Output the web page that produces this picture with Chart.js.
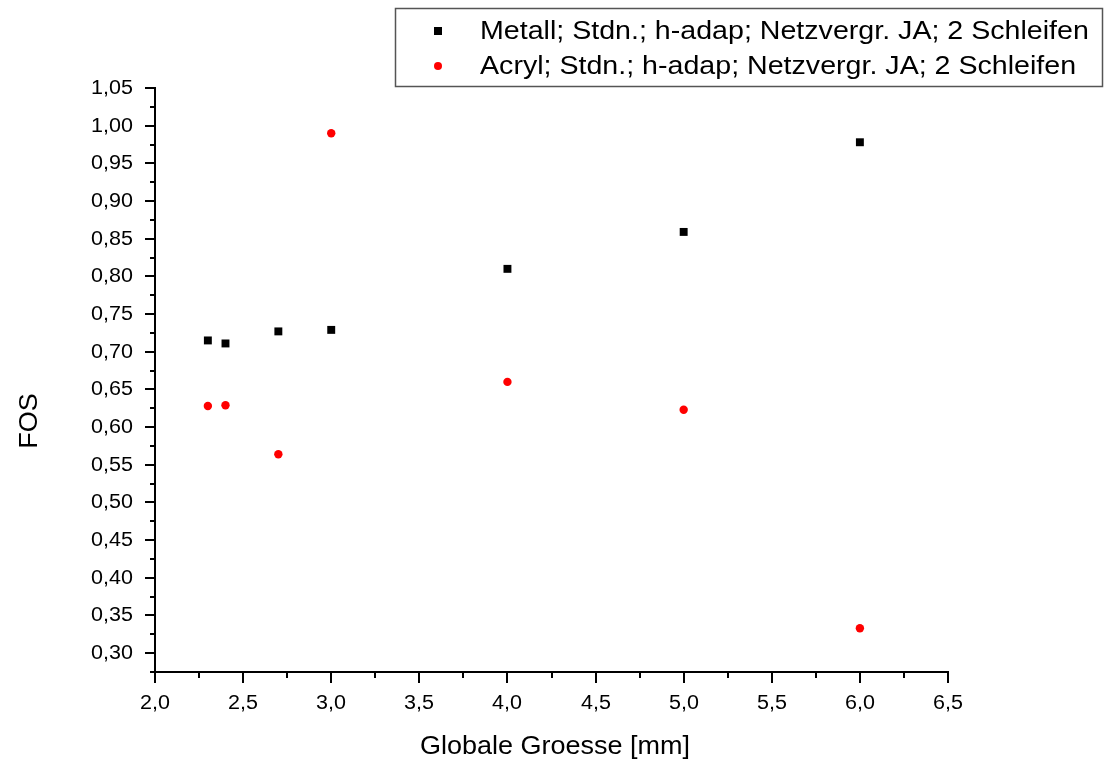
<!DOCTYPE html>
<html>
<head>
<meta charset="utf-8">
<script src="https://cdn.jsdelivr.net/npm/chart.js@4.4.0/dist/chart.umd.min.js"></script>
<style>
html,body{margin:0;padding:0;background:#fff;}
#wrap{width:1105px;height:765px;position:relative;}
</style>
</head>
<body>
<div id="wrap"><canvas id="c" width="1105" height="765"></canvas></div>
<script>
const xMetall = [2.3, 2.4, 2.7, 3.0, 4.0, 5.0, 6.0];
const yMetall = [0.715, 0.711, 0.727, 0.729, 0.810, 0.859, 0.978];
const xAcryl = [2.3, 2.4, 2.7, 3.0, 4.0, 5.0, 6.0];
const yAcryl = [0.628, 0.629, 0.564, 0.990, 0.660, 0.623, 0.333];
const seriesLabels = [
  'Metall; Stdn.; h-adap; Netzvergr. JA; 2 Schleifen',
  'Acryl; Stdn.; h-adap; Netzvergr. JA; 2 Schleifen'
];
const xTicks = [2.0, 2.5, 3.0, 3.5, 4.0, 4.5, 5.0, 5.5, 6.0, 6.5];
const yTicks = [0.30, 0.35, 0.40, 0.45, 0.50, 0.55, 0.60, 0.65, 0.70, 0.75, 0.80, 0.85, 0.90, 0.95, 1.00, 1.05];
const xTitle = 'Globale Groesse [mm]';
const yTitle = 'FOS';

const FONT = '"Liberation Sans", Arial, sans-serif';
const fmt = (v, d) => v.toFixed(d).replace('.', ',');

function drawText(ctx, text, x, y, size, align, sx, rot) {
  ctx.save();
  ctx.translate(x, y);
  if (rot) ctx.rotate(rot);
  ctx.scale(sx, 1);
  ctx.font = size + 'px ' + FONT;
  ctx.textAlign = align;
  ctx.textBaseline = 'middle';
  ctx.fillStyle = '#000';
  ctx.fillText(text, 0, 0);
  ctx.restore();
}

const axisPlugin = {
  id: 'axisDecor',
  afterDraw(chart) {
    const ctx = chart.ctx;
    const xs = chart.scales.x, ys = chart.scales.y;
    const ca = chart.chartArea;
    ctx.save();
    ctx.strokeStyle = '#000';
    ctx.lineWidth = 2;
    for (let i = 0; i < yTicks.length; i++) {
      const py = Math.round(ys.getPixelForValue(yTicks[i]));
      ctx.beginPath(); ctx.moveTo(ca.left - 10, py); ctx.lineTo(ca.left, py); ctx.stroke();
      const mv = yTicks[i] - 0.025;
      if (mv >= ys.min - 1e-9) {
        const pm = Math.round(ys.getPixelForValue(mv));
        ctx.beginPath(); ctx.moveTo(ca.left - 5, pm); ctx.lineTo(ca.left, pm); ctx.stroke();
      }
      drawText(ctx, fmt(yTicks[i], 2), 133, py, 20.5, 'right', 1.05);
    }
    for (let i = 0; i < xTicks.length; i++) {
      const px = Math.round(xs.getPixelForValue(xTicks[i]));
      ctx.beginPath(); ctx.moveTo(px, ca.bottom); ctx.lineTo(px, ca.bottom + 11); ctx.stroke();
      if (i < xTicks.length - 1) {
        const pm = Math.round(xs.getPixelForValue((xTicks[i] + xTicks[i + 1]) / 2));
        ctx.beginPath(); ctx.moveTo(pm, ca.bottom); ctx.lineTo(pm, ca.bottom + 6); ctx.stroke();
      }
      drawText(ctx, fmt(xTicks[i], 1), px, 703, 20.5, 'center', 1.05);
    }
    drawText(ctx, xTitle, 555, 747, 25, 'center', 1.08);
    drawText(ctx, yTitle, 30, 421, 25, 'center', 1.08, -Math.PI / 2);
    ctx.lineWidth = 1.5;
    ctx.strokeStyle = '#555';
    ctx.strokeRect(395.5, 8.5, 707, 78);
    const rows = [31, 66];
    chart.data.datasets.forEach((ds, i) => {
      const y = rows[i];
      ctx.fillStyle = ds.backgroundColor;
      if (ds.pointStyle === 'rect') {
        ctx.fillRect(434, y - 4, 8, 8);
      } else {
        ctx.beginPath(); ctx.arc(438, y, 4, 0, Math.PI * 2); ctx.fill();
      }
      drawText(ctx, ds.label, 480, y + 1, 26, 'left', 1.1);
    });
    ctx.restore();
  }
};

new Chart(document.getElementById('c'), {
  type: 'scatter',
  data: {
    datasets: [
      {
        label: seriesLabels[0],
        data: xMetall.map((x, i) => ({ x: x, y: yMetall[i] })),
        backgroundColor: '#000',
        borderColor: '#000',
        borderWidth: 0,
        pointStyle: 'rect',
        pointRadius: 5.6,
        pointHoverRadius: 5.6
      },
      {
        label: seriesLabels[1],
        data: xAcryl.map((x, i) => ({ x: x, y: yAcryl[i] })),
        backgroundColor: '#ff0000',
        borderColor: '#ff0000',
        borderWidth: 0,
        pointStyle: 'circle',
        pointRadius: 4.2,
        pointHoverRadius: 4.2
      }
    ]
  },
  options: {
    responsive: false,
    animation: false,
    events: [],
    layout: { padding: { left: 0, top: 88, right: 157, bottom: 0 } },
    plugins: { legend: { display: false }, tooltip: { enabled: false } },
    scales: {
      x: {
        type: 'linear',
        min: 2.0, max: 6.5,
        afterBuildTicks: s => { s.ticks = xTicks.map(v => ({ value: v })); },
        afterFit: s => { s.height = 93; },
        grid: { display: false, drawTicks: false },
        border: { display: true, color: '#000', width: 2 },
        ticks: { display: false }
      },
      y: {
        type: 'linear',
        min: 0.275, max: 1.05,
        afterBuildTicks: s => { s.ticks = yTicks.map(v => ({ value: v })); },
        afterFit: s => { s.width = 155; },
        grid: { display: false, drawTicks: false },
        border: { display: true, color: '#000', width: 2 },
        ticks: { display: false }
      }
    }
  },
  plugins: [axisPlugin]
});
</script>
</body>
</html>
